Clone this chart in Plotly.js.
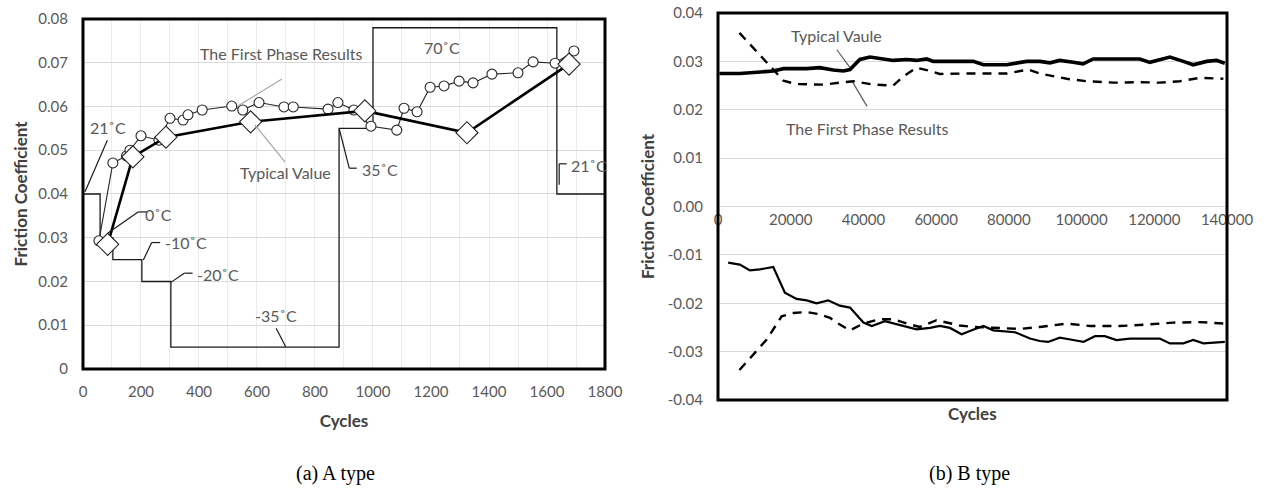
<!DOCTYPE html>
<html>
<head>
<meta charset="utf-8">
<script src="https://cdn.plot.ly/plotly-3.0.1.min.js"></script>
<style>
  html, body { margin: 0; padding: 0; background: #ffffff; }
  #chart { width: 1264px; height: 489px; }
</style>
</head>
<body>
<div id="chart"></div>
<script>
// ---------- (a) A type ----------
const tempCyclesA = [0, 59, 103, 203, 303, 883, 1000, 1634, 1800];
const tempCoefA   = [0.040, 0.030, 0.025, 0.020, 0.005, 0.055, 0.078, 0.040, 0.040];

const firstCyclesA = [55, 103, 150, 162, 200, 262, 300, 345, 362, 411, 513, 551, 607, 693, 725, 845, 879, 934, 993, 1082, 1107, 1152, 1197, 1245, 1297, 1345, 1410, 1500, 1552, 1628, 1693];
const firstCoefA   = [0.0293, 0.0471, 0.0487, 0.0500, 0.0533, 0.0523, 0.0573, 0.0569, 0.0581, 0.0592, 0.0601, 0.0592, 0.0609, 0.0599, 0.0599, 0.0594, 0.0609, 0.0592, 0.0555, 0.0546, 0.0596, 0.0588, 0.0644, 0.0647, 0.0658, 0.0654, 0.0674, 0.0677, 0.0702, 0.0699, 0.0727];

const typCyclesA = [85, 172, 286, 578, 972, 1324, 1676];
const typCoefA   = [0.0285, 0.0485, 0.0530, 0.0565, 0.0590, 0.0540, 0.0697];

const xTicksA = [0, 200, 400, 600, 800, 1000, 1200, 1400, 1600, 1800];
const yTicksA = [0, 0.01, 0.02, 0.03, 0.04, 0.05, 0.06, 0.07, 0.08];
const yTickTextA = ['0', '0.01', '0.02', '0.03', '0.04', '0.05', '0.06', '0.07', '0.08'];

// ---------- (b) B type ----------
const typUpperX = [400, 6000, 15200, 18000, 24400, 28000, 31700, 34500, 36300, 39000, 41800, 44500, 48200, 51900, 54600, 57400, 59200, 66500, 70200, 73000, 79400, 84900, 88500, 91300, 94000, 97700, 100400, 103200, 116000, 118800, 124300, 128000, 130700, 134400, 137100, 139400];
const typUpperY = [0.0275, 0.0275, 0.0280, 0.0285, 0.0285, 0.0287, 0.0282, 0.0280, 0.0283, 0.0304, 0.0309, 0.0306, 0.0302, 0.0304, 0.0302, 0.0305, 0.0300, 0.0300, 0.0300, 0.0293, 0.0293, 0.0300, 0.0300, 0.0297, 0.0302, 0.0298, 0.0295, 0.0305, 0.0305, 0.0298, 0.0309, 0.0300, 0.0293, 0.0300, 0.0302, 0.0296];

const firstUpperX = [5900, 15200, 18000, 21600, 29000, 33500, 37200, 42700, 48200, 51000, 54600, 57400, 61000, 70200, 79400, 85400, 88500, 95900, 101400, 108700, 116000, 121500, 127000, 132500, 139000];
const firstUpperY = [0.0359, 0.0283, 0.0260, 0.0253, 0.0252, 0.0256, 0.0259, 0.0252, 0.0250, 0.0269, 0.0287, 0.0282, 0.0274, 0.0275, 0.0275, 0.0283, 0.0275, 0.0264, 0.0259, 0.0256, 0.0257, 0.0256, 0.0259, 0.0266, 0.0264];

const typLowerX = [2800, 6000, 8800, 11500, 15200, 18400, 21600, 24400, 27100, 30300, 33500, 36300, 40000, 42300, 45900, 51000, 54600, 58300, 61000, 63800, 67000, 69800, 73000, 75700, 81700, 85800, 88500, 90800, 94000, 97700, 100500, 103700, 106400, 109600, 113300, 121500, 124300, 128000, 130700, 133500, 139400];
const typLowerY = [-0.0116, -0.0120, -0.0132, -0.0130, -0.0125, -0.0178, -0.0191, -0.0194, -0.0200, -0.0194, -0.0205, -0.0209, -0.0240, -0.0247, -0.0237, -0.0247, -0.0254, -0.0251, -0.0247, -0.0251, -0.0264, -0.0256, -0.0247, -0.0256, -0.0260, -0.0273, -0.0278, -0.0280, -0.0271, -0.0276, -0.0280, -0.0268, -0.0268, -0.0276, -0.0273, -0.0273, -0.0283, -0.0283, -0.0276, -0.0283, -0.0280];

const firstLowerX = [5900, 9700, 13400, 17500, 20700, 24400, 28000, 30800, 33500, 36300, 40000, 44500, 48200, 51900, 55500, 60100, 66500, 70200, 75700, 83000, 88500, 95900, 102300, 110500, 117900, 125200, 132500, 139400];
const firstLowerY = [-0.0338, -0.0306, -0.0275, -0.0227, -0.0220, -0.0218, -0.0223, -0.0230, -0.0244, -0.0256, -0.0242, -0.0233, -0.0233, -0.0242, -0.0249, -0.0235, -0.0246, -0.0249, -0.0251, -0.0253, -0.0249, -0.0242, -0.0247, -0.0247, -0.0244, -0.0240, -0.0239, -0.0242];

const xTicksB = [0, 20000, 40000, 60000, 80000, 100000, 120000, 140000];
const xTickTextB = ['0', '20000', '40000', '60000', '80000', '100000', '120000', '140000'];
const yTicksB = [-0.04, -0.03, -0.02, -0.01, 0, 0.01, 0.02, 0.03, 0.04];
const yTickTextB = ['-0.04', '-0.03', '-0.02', '-0.01', '0.00', '0.01', '0.02', '0.03', '0.04'];

const FONT = 'Lato, "Open Sans", "DejaVu Sans", sans-serif';
const TICKC = '#595959';
const TITLEC = '#404040';
const GRID = '#d9d9d9';

const traces = [
  { x: tempCyclesA, y: tempCoefA, xaxis: 'x', yaxis: 'y', mode: 'lines',
    line: { shape: 'hv', color: '#1a1a1a', width: 1.3 }, hoverinfo: 'skip', name: 'Temperature' },
  { x: firstCyclesA, y: firstCoefA, xaxis: 'x', yaxis: 'y', mode: 'lines+markers',
    line: { color: '#262626', width: 1.1 },
    marker: { symbol: 'circle', size: 10, color: '#ffffff', line: { color: '#262626', width: 1.1 } },
    name: 'The First Phase Results' },
  { x: typCyclesA, y: typCoefA, xaxis: 'x', yaxis: 'y', mode: 'lines+markers',
    line: { color: '#000000', width: 2.6 },
    marker: { symbol: 'diamond', size: 17, color: '#ffffff', line: { color: '#262626', width: 1.1 } },
    name: 'Typical Value' },

  { x: firstUpperX, y: firstUpperY, xaxis: 'x2', yaxis: 'y2', mode: 'lines',
    line: { color: '#000000', width: 2.4, dash: '9px,7px' }, name: 'The First Phase Results' },
  { x: typUpperX, y: typUpperY, xaxis: 'x2', yaxis: 'y2', mode: 'lines',
    line: { color: '#000000', width: 3.6 }, name: 'Typical Vaule' },
  { x: firstLowerX, y: firstLowerY, xaxis: 'x2', yaxis: 'y2', mode: 'lines',
    line: { color: '#000000', width: 2.4, dash: '9px,7px' }, name: 'The First Phase Results' },
  { x: typLowerX, y: typLowerY, xaxis: 'x2', yaxis: 'y2', mode: 'lines',
    line: { color: '#000000', width: 2.2 }, name: 'Typical Vaule' }
];

function lbl(xref, yref, x, y, text) {
  return { xref: xref, yref: yref, x: x, y: y, text: text, showarrow: false,
           font: { family: FONT, size: 16, color: TICKC }, xanchor: 'center', yanchor: 'middle' };
}
function seg(xref, yref, x0, y0, x1, y1, color) {
  return { type: 'line', xref: xref, yref: yref, x0: x0, y0: y0, x1: x1, y1: y1,
           line: { color: color || '#1a1a1a', width: 1.2 }, layer: 'above' };
}

const annotations = [
  lbl('x', 'y', 86, 0.0553, '21˚C'),
  lbl('x', 'y', 262, 0.0354, '0˚C'),
  lbl('x', 'y', 354, 0.0290, '-10˚C'),
  lbl('x', 'y', 467, 0.0215, '-20˚C'),
  lbl('x', 'y', 666, 0.0123, '-35˚C'),
  lbl('x', 'y', 1024, 0.0457, '35˚C'),
  lbl('x', 'y', 1238, 0.0734, '70˚C'),
  lbl('x', 'y', 1745, 0.0466, '21˚C'),
  lbl('x', 'y', 683, 0.0722, 'The First Phase Results'),
  lbl('x', 'y', 700, 0.0448, 'Typical Value'),
  lbl('x2', 'y2', 32700, 0.0353, 'Typical Vaule'),
  lbl('x2', 'y2', 41000, 0.0161, 'The First Phase Results'),
  { xref: 'x2 domain', yref: 'y2 domain', x: 0.5, y: -0.036, text: '<b>Cycles</b>', showarrow: false,
    font: { family: FONT, size: 17, color: TITLEC }, xanchor: 'center', yanchor: 'middle' },
  { xref: 'paper', yref: 'paper', x: 0.2658, y: -0.1912, text: '(a) A type', showarrow: false,
    font: { family: '"Liberation Serif", "Times New Roman", serif', size: 20, color: '#000000' },
    xanchor: 'center', yanchor: 'middle' },
  { xref: 'paper', yref: 'paper', x: 0.7674, y: -0.1912, text: '(b) B type', showarrow: false,
    font: { family: '"Liberation Serif", "Times New Roman", serif', size: 20, color: '#000000' },
    xanchor: 'center', yanchor: 'middle' }
];

const shapes = [
  // leader lines (a)
  seg('x', 'y', 84, 0.0523, 7, 0.0405),
  seg('x', 'y', 190, 0.0359, 221, 0.0359),
  seg('x', 'y', 190, 0.0359, 86, 0.0311),
  seg('x', 'y', 208, 0.0249, 237, 0.0289),
  seg('x', 'y', 237, 0.0289, 266, 0.0289),
  seg('x', 'y', 303, 0.0198, 349, 0.0219),
  seg('x', 'y', 349, 0.0219, 378, 0.0219),
  seg('x', 'y', 666, 0.0093, 699, 0.0051),
  seg('x', 'y', 884, 0.0548, 918, 0.0459),
  seg('x', 'y', 918, 0.0459, 944, 0.0459),
  seg('x', 'y', 1642, 0.0469, 1668, 0.0469),
  seg('x', 'y', 1642, 0.0469, 1642, 0.0421),
  seg('x', 'y', 686, 0.0663, 534, 0.0601, '#a6a6a6'),
  seg('x', 'y', 697, 0.0473, 593, 0.0558, '#a6a6a6'),
  // leader lines (b)
  seg('x2', 'y2', 32700, 0.0324, 36300, 0.0287, '#595959'),
  seg('x2', 'y2', 41000, 0.0207, 37100, 0.0256, '#595959'),
  // frames
  { type: 'rect', xref: 'x domain', yref: 'y domain', x0: 0, x1: 1, y0: 0, y1: 1,
    line: { color: '#000000', width: 3 }, layer: 'above' },
  { type: 'rect', xref: 'x2 domain', yref: 'y2 domain', x0: 0, x1: 1, y0: 0, y1: 1,
    line: { color: '#000000', width: 3 }, layer: 'above' }
];

const tickFont = { family: FONT, size: 15, color: TICKC };
const layout = {
  width: 1264, height: 489,
  margin: { l: 0, r: 0, t: 13, b: 89, pad: 0 },
  paper_bgcolor: '#ffffff', plot_bgcolor: '#ffffff',
  showlegend: false,
  font: { family: FONT, color: TICKC },
  xaxis: {
    domain: [0.06566, 0.47864], range: [0, 1800], anchor: 'y',
    tickvals: xTicksA, ticks: '', tickfont: tickFont, ticklabelstandoff: 12,
    showgrid: true, gridcolor: '#ececec', gridwidth: 1,
    minor: { dtick: 100, tick0: 0, showgrid: true, gridcolor: '#ececec', gridwidth: 1 },
    zeroline: false, showline: false, automargin: false,
    title: { text: '<b>Cycles</b>', font: { family: FONT, size: 17, color: TITLEC }, standoff: 16 }
  },
  yaxis: {
    domain: [0.0801, 0.9845], range: [0, 0.08], anchor: 'x',
    tickvals: yTicksA, ticktext: yTickTextA, ticks: '', tickfont: tickFont, ticklabelstandoff: 14,
    showgrid: true, gridcolor: GRID, gridwidth: 1,
    zeroline: false, showline: false, automargin: false,
    title: { text: '<b>Friction Coefficient</b>', font: { family: FONT, size: 17, color: TITLEC }, standoff: 6 }
  },
  xaxis2: {
    domain: [0.56804, 0.97073], range: [0, 140000], anchor: 'free', position: 0.5,
    tickvals: xTicksB, ticktext: xTickTextB, ticks: '', tickfont: tickFont, ticklabelstandoff: 2,
    showgrid: false, zeroline: false, showline: false, automargin: false
  },
  yaxis2: {
    domain: [0, 1], range: [-0.04, 0.04], anchor: 'x2',
    tickvals: yTicksB, ticktext: yTickTextB, ticks: '', tickfont: tickFont, ticklabelstandoff: 14,
    showgrid: true, gridcolor: GRID, gridwidth: 1,
    zeroline: false, showline: false, automargin: false,
    title: { text: '<b>Friction Coefficient</b>', font: { family: FONT, size: 17, color: TITLEC }, standoff: 8 }
  },
  annotations: annotations,
  shapes: shapes
};

Plotly.newPlot('chart', traces, layout, { staticPlot: true, displayModeBar: false });
</script>
</body>
</html>
